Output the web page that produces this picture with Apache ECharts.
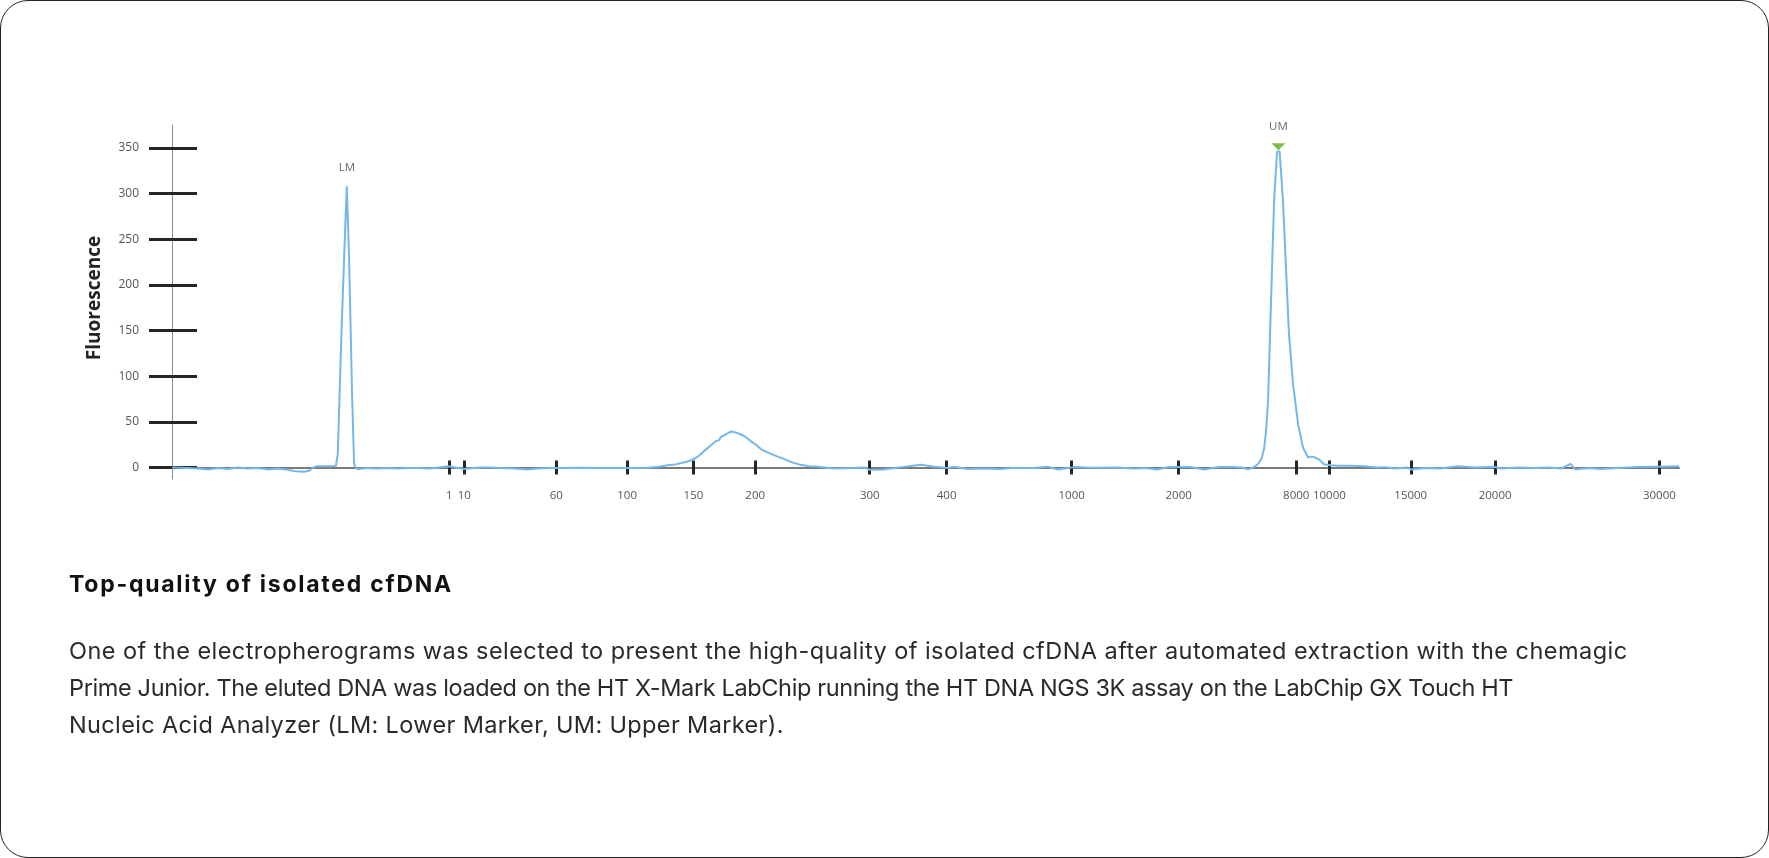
<!DOCTYPE html>
<html><head><meta charset="utf-8">
<script src="https://cdn.jsdelivr.net/npm/echarts@6/dist/echarts.min.js"></script>
<style>
html,body{margin:0;padding:0;background:#fff;}
#frame{position:absolute;left:0;top:0;width:1769px;height:858px;box-sizing:border-box;border:1.5px solid #222;border-radius:28px;overflow:hidden;background:#fff;}
#chart{position:absolute;left:0;top:0;width:1769px;height:858px;}
.txt{position:absolute;left:68px;white-space:nowrap;font-family:Inter,'Noto Sans',sans-serif;line-height:28px;}
#title{top:569px;font-size:23px;font-weight:700;color:#111;}
.body{font-size:23.5px;font-weight:400;color:#2a2a2a;}
</style></head>
<body>
<div id="frame">
<div id="chart"></div>
<div id="title" class="txt">Top-quality of isolated cfDNA</div>
<div id="l1" class="txt body" style="top:636px">One of the electropherograms was selected to present the high-quality of isolated cfDNA after automated extraction with the chemagic</div>
<div id="l2" class="txt body" style="top:673px">Prime Junior. The eluted DNA was loaded on the HT X-Mark LabChip running the HT DNA NGS 3K assay on the LabChip GX Touch HT</div>
<div id="l3" class="txt body" style="top:710px">Nucleic Acid Analyzer (LM: Lower Marker, UM: Upper Marker).</div>
</div>
<script>
// x positions along the (non-linear) size axis, in migration units 0..100
const tickPos = [18.4,19.4,25.5,30.2,34.6,38.7,46.3,51.4,59.7,66.8,74.6,76.8,82.2,87.8,98.7];
const tickLabels = ['1','10','60','100','150','200','300','400','1000','2000','8000','10000','15000','20000','30000'];
const yTicks = [0,50,100,150,200,250,300,350];

const traceTime = [0,1.0,1.7,2.4,3.05,3.7,4.4,5.0,5.7,6.4,7.0,7.7,8.2,8.76,9.1,9.36,9.62,10.0,10.55,10.88,
 11.0,11.25,11.5,11.6,11.75,11.95,12.08,12.2,12.4,12.9,13.6,14.3,15.0,15.7,16.4,17.1,17.7,18.31,18.8,19.38,
 20.0,20.5,21.2,21.8,22.7,23.6,24.3,25.15,26.1,27.1,28.1,29.1,30.3,31.6,32.3,32.9,33.4,33.8,34.4,34.9,
 35.3,35.8,36.1,36.3,36.4,36.8,37.1,37.4,37.8,38.1,38.4,38.75,39.1,39.4,39.75,40.2,40.6,41.1,41.7,42.3,
 42.9,43.9,45.1,46.0,46.3,47.2,48.4,49.7,50.6,51.5,51.9,52.8,53.8,55.0,55.7,57.2,58.1,58.8,59.85,60.7,
 61.6,62.7,63.8,64.6,65.4,66.1,67.6,68.5,69.4,70.5,71.0,71.4,71.8,72.06,72.3,72.46,72.6,72.73,72.93,73.13,
 73.33,73.42,73.5,73.72,73.92,74.12,74.39,74.72,75.05,75.38,75.6,75.78,76.11,76.44,76.9,77.37,78.2,79.1,80.0,80.5,
 81.1,82.0,82.2,83.2,84.2,85.3,86.5,87.7,88.2,89.3,90.4,91.3,92.2,92.8,93.1,94.0,94.8,95.9,97.0,98.5,100];
const traceFluor = [0,-0.5,-1,-2,-0.5,-1.5,0,-1,-0.5,-2,-1,-2.5,-4,-4.5,-3.5,0,1.5,1.5,1.5,2,
 15,150,265,308,230,80,5,-1,-1.5,-0.5,-1,-0.5,-1,-0.5,-0.5,-1,0,1.5,0,-1.5,
 -0.5,0,0,-0.5,-1,-2,-1,-0.5,-0.5,-0.3,-0.5,-0.5,-0.5,-0.3,1,2.5,3.5,5,7.5,12,
 18,25,29,30,33,37,39.5,38.5,36,33,29,25,20,17.5,15,12,9.5,6,3,1.5,
 0.8,-1,-0.5,0,-2.5,-2,0.5,3,1,-0.5,1,-1.5,-1,-1.5,-0.5,-0.5,1,-2,0.5,0,
 -0.3,0,-1,-0.5,-2,0.5,0.5,-2,0.5,0.5,0,-2,0.5,4,10,20,40,73,182,292,
 346,348,346,292,219,146,91,48,22,11,12,11.5,9,3.6,2.5,2,2,1.5,0,0.5,
 -1,0,-2,-0.5,-1,1.5,0,1,-1,0,-0.5,0,-1,4,-2,-0.5,-1.5,-0.5,0.5,1,1.5];

const peakNames = ['LM','UM'];
const peakTime = [11.6, 73.42];
const peakFluor = [308, 348];

const axisFont = "'Open Sans','Noto Sans',sans-serif";
const tickStyle = {color:'#262626', width:3};

const chart = echarts.init(document.getElementById('chart'), null, {renderer:'canvas'});
chart.setOption({
  animation:false,
  grid:{left:171, right:91, top:124, bottom:380, containLabel:false},
  xAxis:[{
    type:'value', min:0, max:100, position:'bottom',
    axisLine:{show:true, lineStyle:{color:'#7a7a7a', width:2}},
    axisTick:{show:true, inside:false, length:7, lineStyle:tickStyle, customValues:tickPos},
    axisLabel:{show:true, customValues:tickPos, margin:11, color:'#555', fontSize:11.5, fontFamily:axisFont,
      formatter:function(v){ const i=tickPos.indexOf(v); return i>=0?tickLabels[i]:''; }},
    splitLine:{show:false}
  },{
    type:'value', min:0, max:100, position:'bottom',
    axisLine:{show:false},
    axisTick:{show:true, inside:true, length:7, lineStyle:tickStyle, customValues:tickPos},
    axisLabel:{show:false}, splitLine:{show:false}
  }],
  yAxis:[{
    type:'value', min:-12.5, max:375, position:'left',
    name:'Fluorescence', nameLocation:'middle', nameGap:68, nameRotate:90,
    nameTextStyle:{fontFamily:axisFont, fontWeight:'bold', fontSize:19, color:'#222', padding:[0,0,0,8]},
    axisLine:{show:true, lineStyle:{color:'#8a8a8a', width:1}},
    axisTick:{show:true, inside:false, length:23, lineStyle:tickStyle, customValues:yTicks},
    axisLabel:{show:true, customValues:yTicks, margin:33, color:'#555', fontSize:12, fontFamily:axisFont},
    splitLine:{show:false}
  },{
    type:'value', min:-12.5, max:375, position:'left',
    axisLine:{show:false},
    axisTick:{show:true, inside:true, length:25, lineStyle:tickStyle, customValues:yTicks},
    axisLabel:{show:false}, splitLine:{show:false}
  }],
  series:[{
    type:'line', xAxisIndex:0, yAxisIndex:0,
    data: traceTime.map((t,i)=>[t, traceFluor[i]]),
    showSymbol:false, symbol:'none',
    lineStyle:{color:'#74b7e8', width:2},
    z:3,
    markPoint:{
      silent:true,
      data:[
        {coord:[peakTime[0], peakFluor[0]], symbol:'circle', symbolSize:0.1,
         itemStyle:{color:'rgba(0,0,0,0)'},
         label:{show:true, formatter:peakNames[0], position:'top', distance:12, color:'#666', fontSize:11.5, fontFamily:axisFont}},
        {coord:[peakTime[1], peakFluor[1]], symbol:'triangle', symbolRotate:180, symbolSize:[14,7], symbolOffset:[0,-3],
         itemStyle:{color:'#7cc142'},
         label:{show:true, formatter:peakNames[1], position:'top', distance:10, color:'#666', fontSize:11.5, fontFamily:axisFont}}
      ]
    }
  }]
});

function fitOne(id, target){
  const el=document.getElementById(id);
  el.style.letterSpacing='0px';
  const w=el.getBoundingClientRect().width;
  el.style.letterSpacing=((target-w)/el.textContent.length)+'px';
}
function fitBlend(ids, targets){
  const els=ids.map(id=>document.getElementById(id));
  let num=0, den=0; const own=[];
  els.forEach((el,i)=>{
    el.style.letterSpacing='0px';
    const w=el.getBoundingClientRect().width, n=el.textContent.length;
    own.push((targets[i]-w)/n);
    num+=n*(targets[i]-w); den+=n*n;
  });
  const common=num/den;
  els.forEach((el,i)=>{ el.style.letterSpacing=(0.5*own[i]+0.5*common)+'px'; });
}
fitOne('title',384);
fitBlend(['l1','l2','l3'],[1605,1387,730]);
</script>
</body></html>
